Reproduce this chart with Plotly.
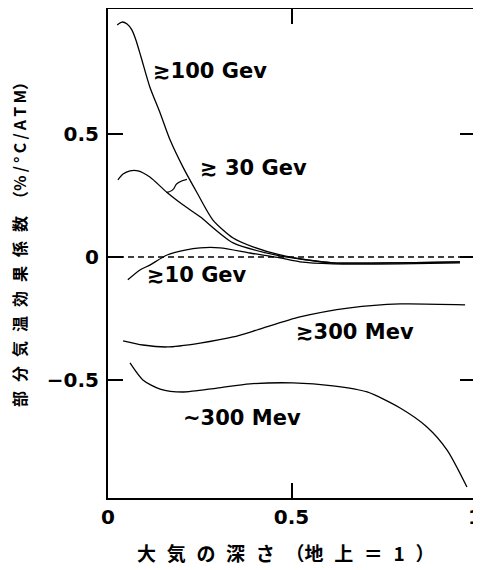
import plotly.graph_objects as go

# ---- data ----
x_100g = [0.025, 0.038, 0.052, 0.065, 0.076, 0.090, 0.114, 0.142, 0.169, 0.204, 0.243, 0.286, 0.341, 0.395, 0.469, 0.542, 0.613, 0.796, 0.959]
y_100g = [0.943, 0.955, 0.947, 0.923, 0.882, 0.813, 0.691, 0.585, 0.476, 0.366, 0.260, 0.150, 0.077, 0.041, 0.008, -0.012, -0.024, -0.024, -0.020]

x_30g = [0.027, 0.041, 0.060, 0.082, 0.114, 0.161, 0.204, 0.251, 0.341, 0.469, 0.542, 0.613, 0.796, 0.959]
y_30g = [0.313, 0.337, 0.350, 0.350, 0.325, 0.262, 0.212, 0.163, 0.057, 0.004, -0.012, -0.024, -0.024, -0.020]

x_10g = [0.054, 0.087, 0.114, 0.161, 0.210, 0.251, 0.305, 0.387, 0.469, 0.523, 0.613, 0.796, 0.959]
y_10g = [-0.093, -0.053, -0.033, 0.008, 0.028, 0.037, 0.037, 0.016, -0.004, -0.020, -0.028, -0.028, -0.024]

x_300m_ge = [0.041, 0.095, 0.161, 0.251, 0.341, 0.406, 0.523, 0.659, 0.796, 0.973]
y_300m_ge = [-0.341, -0.358, -0.366, -0.350, -0.325, -0.297, -0.244, -0.207, -0.191, -0.195]

x_300m = [0.060, 0.095, 0.142, 0.204, 0.297, 0.387, 0.504, 0.613, 0.706, 0.796, 0.869, 0.924, 0.978]
y_300m = [-0.431, -0.500, -0.537, -0.549, -0.533, -0.516, -0.512, -0.524, -0.549, -0.614, -0.691, -0.785, -0.935]

series = [
    ("≳100 Gev", x_100g, y_100g, 0.118, 0.755),
    ("≳ 30 Gev", x_30g, y_30g, 0.245, 0.362),
    ("≳10 Gev", x_10g, y_10g, 0.100, -0.073),
    ("≳300 Mev", x_300m_ge, y_300m_ge, 0.508, -0.305),
    ("~300 Mev", x_300m, y_300m, 0.200, -0.655),
]

x_ticks = [0, 0.5, 1]
x_ticktext = ["0", "0.5", "1"]
y_ticks = [-0.5, 0, 0.5]
y_ticktext = ["−0.5", "0", "0.5"]

sp = "\u2002\u200a"
x_title = sp.join(list("大気の深さ")) + sp + "（" + sp.join(list("地上＝1")) + sp + "）"
y_title = sp.join(list("部分気温効果係数")) + sp + "（%\u2009/\u2009°\u2009C\u2009/\u2009A\u2009T\u2009M）"

fig = go.Figure()
for name, xs, ys, lx, ly in series:
    fig.add_trace(go.Scatter(x=xs, y=ys, mode="lines", name=name,
                             line=dict(color="black", width=1.3, shape="spline", smoothing=0.7),
                             showlegend=False, hoverinfo="skip"))
    fig.add_annotation(x=lx, y=ly, text=name, showarrow=False, xanchor="left", yanchor="middle",
                       font=dict(family="DejaVu Sans", size=21, color="black", weight="bold"))

fig.add_hline(y=0, line=dict(color="black", width=1.4, dash="6px,4px"))

# brace connecting the ≳30 label to its curve
fig.add_shape(type="path", xref="x", yref="y",
              path="M 0.160,0.262 Q 0.178,0.268 0.182,0.285 Q 0.186,0.305 0.215,0.315",
              line=dict(color="black", width=1.3))

# axis titles as annotations (positioned like the reference)
fig.add_annotation(xref="paper", yref="paper", x=0.484, y=-0.112, text=x_title, showarrow=False,
                   xanchor="center", yanchor="middle",
                   font=dict(family="Noto Sans CJK JP", size=19, color="black", weight="bold"))
fig.add_annotation(xref="paper", yref="paper", x=-0.242, y=0.526, text=y_title, showarrow=False,
                   textangle=-90, xanchor="center", yanchor="middle",
                   font=dict(family="Noto Sans CJK JP", size=16, color="black", weight="bold"))

axis_common = dict(showline=True, linecolor="black", linewidth=2, mirror="ticks",
                   ticks="inside", ticklen=15, tickwidth=2, tickcolor="black",
                   showgrid=False, zeroline=False, automargin=False, ticklabeloverflow="allow",
                   tickfont=dict(family="DejaVu Sans", size=20, color="black", weight="bold"))

fig.update_xaxes(range=[0, 1], tickvals=x_ticks, ticktext=x_ticktext, **axis_common)
fig.update_yaxes(range=[-0.98, 1.008], tickvals=y_ticks, ticktext=y_ticktext, ticklabelstandoff=3,
                 **axis_common)

# page body adds an 8px offset; figure sized so the frame lands where the reference has it
fig.update_layout(width=481, height=562, margin=dict(l=100, r=14, t=1, b=72),
                  plot_bgcolor="white", paper_bgcolor="white")

fig.write_html("out.html")
